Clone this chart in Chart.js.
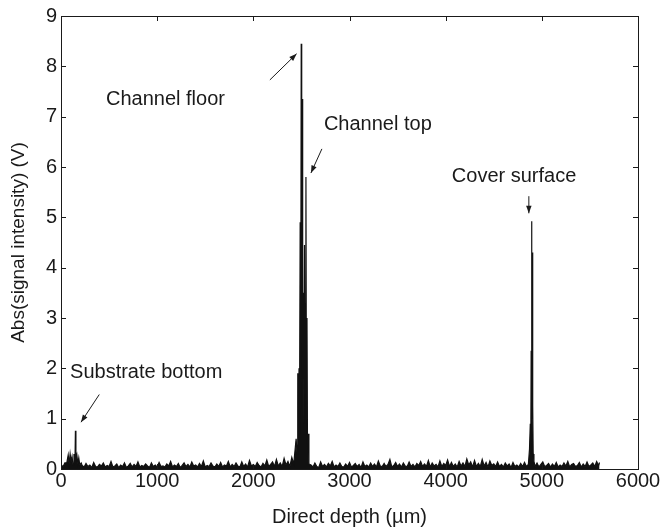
<!DOCTYPE html>
<html>
<head>
<meta charset="utf-8">
<script src="https://cdn.jsdelivr.net/npm/chart.js@4/dist/chart.umd.min.js"></script>
<style>
  body { margin: 0; background: #fff; }
  #wrap { width: 662px; height: 532px; }
</style>
</head>
<body>
<div id="wrap"><canvas id="c" width="662" height="532"></canvas></div>
<script>
// depth samples (um) and abs signal (V)
const depth = [
  0, 20, 40,
  60, 75, 85, 95, 105, 115, 125, 135, 145, 150, 155, 165, 175, 185, 195, 210,
  220, 240, 260, 280, 300, 320, 340, 360, 380, 400,
  420, 440, 460, 480, 500, 520, 540, 560, 580, 600,
  620, 640, 660, 680, 700, 720, 740, 760, 780, 800,
  820, 840, 860, 880, 900, 920, 940, 960, 980, 1000,
  1020, 1040, 1060, 1080, 1100, 1120, 1140, 1160, 1180, 1200,
  1220, 1240, 1260, 1280, 1300, 1320, 1340, 1360, 1380, 1400,
  1420, 1440, 1460, 1480, 1500, 1520, 1540, 1560, 1580, 1600,
  1620, 1640, 1660, 1680, 1700, 1720, 1740, 1760, 1780, 1800,
  1820, 1840, 1860, 1880, 1900, 1920, 1940, 1960, 1980, 2000,
  2020, 2040, 2060, 2080, 2100, 2120, 2140, 2160, 2180, 2200,
  2220, 2240, 2260, 2280, 2300, 2320, 2340, 2360, 2380, 2400,
  2420,
  2445, 2455, 2462, 2468, 2475, 2480, 2487, 2492, 2498, 2503, 2508, 2513,
  2520, 2525, 2532, 2538, 2547, 2552, 2558, 2563, 2570, 2578,
  2600, 2620, 2640, 2660, 2680, 2700, 2720, 2740, 2760, 2780,
  2800, 2820, 2840, 2860, 2880, 2900, 2920, 2940, 2960, 2980,
  3000, 3020, 3040, 3060, 3080, 3100, 3120, 3140, 3160, 3180,
  3200, 3220, 3240, 3260, 3280, 3300, 3320, 3340, 3360, 3380,
  3400, 3420, 3440, 3460, 3480, 3500, 3520, 3540, 3560, 3580,
  3600, 3620, 3640, 3660, 3680, 3700, 3720, 3740, 3760, 3780,
  3800, 3820, 3840, 3860, 3880, 3900, 3920, 3940, 3960, 3980,
  4000, 4020, 4040, 4060, 4080, 4100, 4120, 4140, 4160, 4180,
  4200, 4220, 4240, 4260, 4280, 4300, 4320, 4340, 4360, 4380,
  4400, 4420, 4440, 4460, 4480, 4500, 4520, 4540, 4560, 4580,
  4600, 4620, 4640, 4660, 4680, 4700, 4720, 4740, 4760, 4780,
  4800, 4820, 4840, 4860,
  4872, 4880, 4885, 4889, 4893, 4897, 4901, 4905, 4910, 4918,
  4930, 4950, 4970, 4990, 5010, 5030, 5050, 5070, 5090, 5110,
  5130, 5150, 5170, 5190, 5210, 5230, 5250, 5270, 5290, 5310,
  5330, 5350, 5370, 5390, 5410, 5430, 5450, 5470, 5490, 5510,
  5530, 5550, 5570, 5590,
  5600
];
const signal = [
  0.09, 0.04, 0.12,
  0.12, 0.28, 0.10, 0.30, 0.15, 0.25, 0.08, 0.30, 0.10, 0.76, 0.20, 0.28, 0.10, 0.22, 0.08, 0.12,
  0.07, 0.04, 0.11, 0.05, 0.08, 0.03, 0.13, 0.05, 0.04, 0.09,
  0.06, 0.12, 0.04, 0.07, 0.05, 0.15, 0.04, 0.06, 0.10, 0.03,
  0.08, 0.05, 0.12, 0.03, 0.06, 0.11, 0.04, 0.09, 0.05, 0.14,
  0.04, 0.07, 0.05, 0.10, 0.06, 0.03, 0.12, 0.05, 0.08, 0.04,
  0.13, 0.05, 0.06, 0.04, 0.10, 0.06, 0.15, 0.04, 0.08, 0.05,
  0.11, 0.03, 0.07, 0.12, 0.05, 0.09, 0.04, 0.14, 0.06, 0.08,
  0.04, 0.11, 0.05, 0.16, 0.04, 0.07, 0.05, 0.12, 0.06, 0.04,
  0.10, 0.05, 0.13, 0.04, 0.08, 0.06, 0.15, 0.04, 0.09, 0.05,
  0.12, 0.06, 0.04, 0.14, 0.05, 0.10, 0.04, 0.17, 0.06, 0.09,
  0.05, 0.13, 0.07, 0.04, 0.11, 0.06, 0.18, 0.05, 0.09, 0.14,
  0.05, 0.19, 0.06, 0.12, 0.05, 0.21, 0.08, 0.15, 0.05, 0.23,
  0.10,
  0.60, 0.30, 1.90, 0.50, 2.00, 0.70, 4.90, 1.20, 8.45, 2.50, 7.35, 1.80,
  3.50, 0.90, 4.45, 1.50, 5.80, 1.00, 3.00, 0.50, 0.70, 0.10,
  0.08, 0.04, 0.12, 0.05, 0.03, 0.14, 0.05, 0.09, 0.04, 0.11,
  0.06, 0.15, 0.04, 0.08, 0.05, 0.12, 0.05, 0.04, 0.10, 0.05,
  0.13, 0.04, 0.07, 0.11, 0.05, 0.09, 0.03, 0.14, 0.05, 0.08,
  0.04, 0.12, 0.05, 0.10, 0.04, 0.16, 0.06, 0.05, 0.11, 0.05,
  0.09, 0.19, 0.04, 0.07, 0.13, 0.05, 0.10, 0.04, 0.12, 0.06,
  0.05, 0.14, 0.05, 0.09, 0.04, 0.11, 0.07, 0.15, 0.05, 0.10,
  0.05, 0.17, 0.04, 0.12, 0.06, 0.09, 0.04, 0.16, 0.05, 0.11,
  0.07, 0.18, 0.05, 0.13, 0.05, 0.10, 0.04, 0.15, 0.06, 0.12,
  0.05, 0.20, 0.08, 0.14, 0.04, 0.17, 0.05, 0.11, 0.05, 0.19,
  0.06, 0.13, 0.04, 0.16, 0.07, 0.10, 0.05, 0.14, 0.05, 0.09,
  0.04, 0.12, 0.06, 0.10, 0.03, 0.13, 0.05, 0.08, 0.04, 0.11,
  0.05, 0.13, 0.05, 0.09,
  0.40, 0.90, 0.30, 2.35, 4.92, 1.00, 4.30, 1.26, 0.30, 0.15,
  0.05, 0.12, 0.04, 0.09, 0.14, 0.05, 0.07, 0.11, 0.04, 0.10,
  0.05, 0.13, 0.04, 0.08, 0.05, 0.12, 0.06, 0.15, 0.04, 0.09,
  0.11, 0.05, 0.07, 0.13, 0.04, 0.10, 0.05, 0.14, 0.05, 0.08,
  0.12, 0.05, 0.15, 0.07,
  0.13
];

const xTicks = [0, 1000, 2000, 3000, 4000, 5000, 6000];
const yTicks = [0, 1, 2, 3, 4, 5, 6, 7, 8, 9];

// annotation text (left edge, vertical middle) in data units
const labelText = ['Channel floor', 'Channel top', 'Cover surface', 'Substrate bottom'];
const labelX = [468, 2734, 4064, 94];
const labelY = [7.35, 6.84, 5.81, 1.92];
// arrows: tail -> head
const arrowFrom = [[2172, 7.73], [2713, 6.36], [4865, 5.42], [398, 1.48]];
const arrowTo = [[2450, 8.25], [2599, 5.88], [4865, 5.08], [208, 0.93]];

const ink = '#1a1a1a';
const font = '"Liberation Sans", Arial, sans-serif';

const frame = {
  id: 'frame',
  afterDraw(chart) {
    const ctx = chart.ctx, a = chart.chartArea;
    const xs = chart.scales.x, ys = chart.scales.y;
    ctx.save();
    ctx.strokeStyle = ink;
    ctx.lineWidth = 1;
    ctx.strokeRect(Math.round(a.left) + 0.5, Math.round(a.top) + 0.5,
      Math.round(a.right - a.left), Math.round(a.bottom - a.top));
    const t = 5;
    ctx.beginPath();
    xs.ticks.forEach(tk => {
      const px = Math.round(xs.getPixelForValue(tk.value)) + 0.5;
      ctx.moveTo(px, a.bottom); ctx.lineTo(px, a.bottom - t);
      ctx.moveTo(px, a.top); ctx.lineTo(px, a.top + t);
    });
    ys.ticks.forEach(tk => {
      const py = Math.round(ys.getPixelForValue(tk.value)) + 0.5;
      ctx.moveTo(a.left, py); ctx.lineTo(a.left + t, py);
      ctx.moveTo(a.right, py); ctx.lineTo(a.right - t, py);
    });
    ctx.stroke();

    ctx.fillStyle = ink;
    ctx.font = '20px ' + font;
    ctx.textBaseline = 'middle';
    ctx.textAlign = 'left';
    labelText.forEach((s, i) => {
      ctx.fillText(s, xs.getPixelForValue(labelX[i]), ys.getPixelForValue(labelY[i]));
    });
    arrowFrom.forEach((f, i) => {
      const x1 = xs.getPixelForValue(f[0]), y1 = ys.getPixelForValue(f[1]);
      const x2 = xs.getPixelForValue(arrowTo[i][0]), y2 = ys.getPixelForValue(arrowTo[i][1]);
      const ang = Math.atan2(y2 - y1, x2 - x1);
      ctx.beginPath();
      ctx.moveTo(x1, y1); ctx.lineTo(x2, y2);
      ctx.stroke();
      const L = 8, W = 0.35;
      ctx.beginPath();
      ctx.moveTo(x2, y2);
      ctx.lineTo(x2 - L * Math.cos(ang - W), y2 - L * Math.sin(ang - W));
      ctx.lineTo(x2 - L * Math.cos(ang + W), y2 - L * Math.sin(ang + W));
      ctx.closePath();
      ctx.fill();
    });
    ctx.restore();
  }
};

new Chart(document.getElementById('c'), {
  type: 'line',
  data: {
    datasets: [{
      data: depth.map((d, i) => ({ x: d, y: signal[i] })),
      borderColor: '#111',
      backgroundColor: '#111',
      borderWidth: 1.2,
      pointRadius: 0,
      tension: 0,
      fill: 'origin'
    }]
  },
  options: {
    responsive: false,
    animation: false,
    layout: { padding: { left: 0, top: 14, right: 24, bottom: 0 } },
    plugins: { legend: { display: false }, tooltip: { enabled: false } },
    scales: {
      x: {
        type: 'linear', min: 0, max: 6000,
        afterBuildTicks: s => { s.ticks = xTicks.map(v => ({ value: v })); },
        afterFit: s => { s.height = 63; },
        grid: { display: false, drawTicks: false },
        border: { display: false },
        ticks: { color: ink, font: { family: font, size: 20 }, padding: 0, maxRotation: 0,
                 callback: v => String(v) },
        title: { display: true, text: 'Direct depth (µm)', color: ink, font: { family: font, size: 20 }, padding: { top: 4, bottom: 3 } }
      },
      y: {
        min: 0, max: 9,
        afterBuildTicks: s => { s.ticks = yTicks.map(v => ({ value: v })); },
        afterFit: s => { s.width = 61; },
        grid: { display: false, drawTicks: false },
        border: { display: false },
        ticks: { color: ink, font: { family: font, size: 20 }, padding: 4, callback: v => String(v) },
        title: { display: true, text: 'Abs(signal intensity) (V)', color: ink, font: { family: font, size: 19 }, padding: { top: 7, bottom: 7 } }
      }
    }
  },
  plugins: [frame]
});
</script>
</body>
</html>
